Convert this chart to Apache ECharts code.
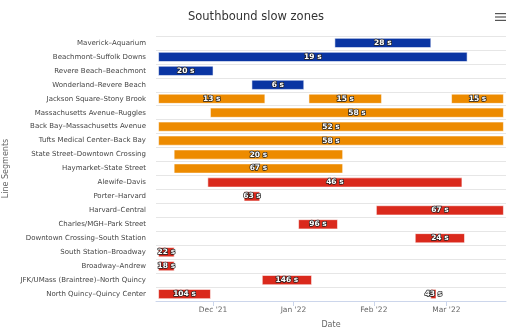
<!DOCTYPE html>
<html>
<head>
<meta charset="utf-8">
<script src="https://cdn.jsdelivr.net/npm/echarts@6/dist/echarts.min.js"></script>
<style>html,body{margin:0;padding:0;background:#fff}#chart{width:512px;height:330px}</style>
</head>
<body>
<div id="chart"></div>
<script>
const categories = [
  'Maverick–Aquarium', 'Beachmont–Suffolk Downs', 'Revere Beach–Beachmont', 'Wonderland–Revere Beach',
  'Jackson Square–Stony Brook', 'Massachusetts Avenue–Ruggles', 'Back Bay–Massachusetts Avenue',
  'Tufts Medical Center–Back Bay', 'State Street–Downtown Crossing', 'Haymarket–State Street',
  'Alewife–Davis', 'Porter–Harvard', 'Harvard–Central', 'Charles/MGH–Park Street',
  'Downtown Crossing–South Station', 'South Station–Broadway', 'Broadway–Andrew',
  'JFK/UMass (Braintree)–North Quincy', 'North Quincy–Quincy Center'
];
const zoneRow   = [0, 1, 2, 3, 4, 4, 4, 5, 6, 7, 8, 9, 10, 11, 12, 13, 14, 15, 16, 17, 18, 18];
const zoneStart = ['2022-01-17','2021-11-10','2021-11-10','2021-12-16','2021-11-10','2022-01-07','2022-03-03',
  '2021-11-30','2021-11-10','2021-11-10','2021-11-16','2021-11-16','2021-11-29','2021-12-13','2022-02-02',
  '2022-01-03','2022-02-17','2021-11-10','2021-11-10','2021-12-20','2021-11-10','2022-02-23'];
const zoneEnd   = ['2022-02-23','2022-03-09','2021-12-01','2022-01-05','2021-12-21','2022-02-04','2022-03-23',
  '2022-03-23','2022-03-23','2022-03-23','2022-01-20','2022-01-20','2022-03-07','2021-12-19','2022-03-23',
  '2022-01-18','2022-03-08','2021-11-16','2021-11-16','2022-01-08','2021-11-30','2022-02-25'];
const zoneDelay = [28, 19, 20, 6, 13, 15, 15, 58, 52, 58, 20, 67, 46, 63, 67, 96, 24, 22, 18, 146, 104, 43];
const zoneLine  = ['blue','blue','blue','blue','orange','orange','orange','orange','orange','orange','orange','orange',
  'red','red','red','red','red','red','red','red','red','red'];
const lineColors = { blue: '#0a35a3', orange: '#ed8b00', red: '#da291c' };
const tickDates = ['2021-12-01', '2022-01-01', '2022-02-01', '2022-03-01'];
const tickLabels = ["Dec '21", "Jan '22", "Feb '22", "Mar '22"];
const axisMin = '2021-11-09';
const axisMax = '2022-03-24';

const ts = s => new Date(s + 'T00:00:00Z').getTime();
const tickTs = tickDates.map(ts);
const seriesData = zoneRow.map((r, i) => ({
  value: [r, ts(zoneStart[i]), ts(zoneEnd[i]), zoneDelay[i]],
  line: zoneLine[i]
}));

const FONT = 'DejaVu Sans';
const chart = echarts.init(document.getElementById('chart'), null, { renderer: 'canvas' });
chart.setOption({
  animation: false,
  textStyle: { fontFamily: FONT },
  title: {
    text: 'Southbound slow zones', left: 'center', top: 6,
    textStyle: { fontFamily: FONT, fontSize: 11.5, fontWeight: 'normal', color: '#333' }
  },
  graphic: [
    { type: 'rect', left: 495, top: 13, shape: { width: 11, height: 1.2 }, style: { fill: '#555' } },
    { type: 'rect', left: 495, top: 16.4, shape: { width: 11, height: 1.2 }, style: { fill: '#555' } },
    { type: 'rect', left: 495, top: 19.8, shape: { width: 11, height: 1.2 }, style: { fill: '#555' } }
  ],
  grid: { left: 156, right: 6, top: 36, bottom: 29, containLabel: false, outerBoundsMode: 'none' },
  xAxis: {
    type: 'value', min: ts(axisMin), max: ts(axisMax), scale: true,
    name: 'Date', nameLocation: 'middle', nameGap: 20,
    nameTextStyle: { fontFamily: FONT, fontSize: 8, color: '#666' },
    axisLine: { show: true, lineStyle: { color: '#ccd6eb' } },
    axisTick: { show: true, customValues: tickTs, length: 5, lineStyle: { color: '#ccd6eb' } },
    axisLabel: {
      customValues: tickTs, color: '#666', fontSize: 7.5, fontFamily: FONT, margin: 5,
      formatter: v => tickLabels[tickTs.indexOf(v)] || ''
    },
    splitLine: { show: false }
  },
  yAxis: {
    type: 'category', data: categories, inverse: true,
    name: 'Line Segments', nameLocation: 'middle', nameGap: 138, nameRotate: 90,
    nameTextStyle: { fontFamily: FONT, fontSize: 8, color: '#666' },
    axisLine: { show: false }, axisTick: { show: false },
    axisLabel: { color: '#444', fontSize: 7, fontFamily: FONT, margin: 10 },
    splitLine: { show: true, lineStyle: { color: '#e6e6e6' } }
  },
  series: [{
    type: 'custom',
    encode: { x: [1, 2], y: 0 },
    data: seriesData,
    clip: false,
    renderItem: (params, api) => {
      const row = api.value(0);
      const s = api.coord([api.value(1), row]);
      const e = api.coord([api.value(2), row]);
      const h = api.size([0, 1])[1] * 0.66;
      const item = seriesData[params.dataIndex];
      return {
        type: 'rect',
        shape: { x: s[0], y: s[1] - h / 2, width: e[0] - s[0], height: h },
        style: { fill: lineColors[item.line], stroke: 'rgba(255,255,255,0.55)', lineWidth: 1 },
        textContent: {
          style: {
            text: api.value(3) + ' s', fill: '#fff', fontSize: 7.5, fontWeight: 'bold', fontFamily: FONT,
            stroke: '#222', lineWidth: 1.4
          }
        },
        textConfig: { position: 'inside' }
      };
    }
  }]
});
</script>
</body>
</html>
